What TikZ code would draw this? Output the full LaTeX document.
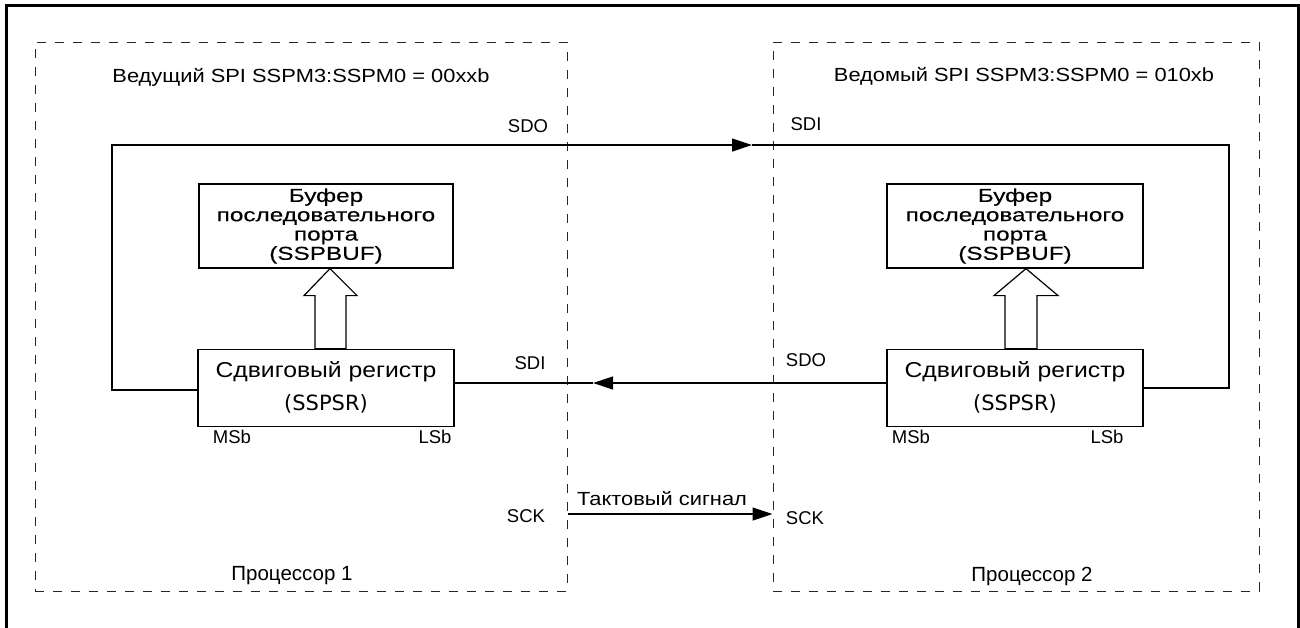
\documentclass[tikz,border=0pt]{standalone}
\usepackage{fontspec}
\setmainfont{Liberation Sans}
\newfontfamily\wide[FakeStretch=1.15]{Liberation Sans}
\newfontfamily\widebuf[FakeStretch=1.3,FakeBold=0.3]{Liberation Sans}
\newfontfamily\regfont{DejaVu Sans}
\usetikzlibrary{positioning,arrows.meta,calc}

\tikzset{
  cpu/.style={draw=black!85,dash pattern=on 9pt off 9pt,line width=1pt,inner sep=0pt},
  blk/.style={draw,line width=1.2pt,inner sep=0pt,align=center},
  lbl/.style={font=\fontsize{18.5}{20}\selectfont,inner sep=0pt},
  wlbl/.style={font=\wide\fontsize{19}{20}\selectfont,inner sep=0pt},
  buftxt/.style={font=\widebuf\fontsize{18.7}{19.3}\selectfont},
  regtxt/.style={font=\wide\fontsize{21.5}{22}\selectfont},
  wire/.style={line width=1.2pt},
  tip/.style={-{Triangle[length=20pt,width=13pt]}},
  hollow/.style={line width=1.2pt,fill=white},
}

\begin{document}
\begin{tikzpicture}[x=1pt,y=-1pt]
\useasboundingbox (0,0) rectangle (1300,627);
% outer frame
\draw[line width=3pt] (6,640) -- (6,5) -- (1298,5) -- (1298,640);

% two processors
\node[cpu,minimum width=532pt,minimum height=549pt] (cpu1) at (301,316.5) {};
\node[cpu,minimum width=486pt,minimum height=549pt] (cpu2) at (1016,316.5) {};

% buffers and shift registers
\node[blk,buftxt,minimum width=254pt,minimum height=84pt] (buf1) at (326,226) {Буфер\\последовательного\\порта\\(SSPBUF)};
\node[blk,regtxt,minimum width=256pt,minimum height=77pt,below=80pt of buf1] (reg1) {Сдвиговый регистр\\[11pt]{\regfont\fontsize{21}{21}\selectfont(SSPSR)}};
\node[blk,buftxt,minimum width=256pt,minimum height=84pt] (buf2) at (1015,226) {Буфер\\последовательного\\порта\\(SSPBUF)};
\node[blk,regtxt,minimum width=256pt,minimum height=77pt,below=80pt of buf2] (reg2) {Сдвиговый регистр\\[11pt]{\regfont\fontsize{21}{21}\selectfont(SSPSR)}};

% hollow arrows register -> buffer
\coordinate (t1) at ($(buf1.south)+(4,0)$);
\draw[hollow] (t1) -- ++(27,27) -- ++(-11,0) -- ++(0,53) -- ++(-31,0) -- ++(0,-53) -- ++(-11,0) -- cycle;
\coordinate (t2) at ($(buf2.south)+(11,0)$);
\draw[hollow] (t2) -- ++(32,27) -- ++(-21,0) -- ++(0,53) -- ++(-32,0) -- ++(0,-53) -- ++(-11,0) -- cycle;

% data lines
\coordinate (yl) at (0,390);
\coordinate (ymid) at (0,383);
\coordinate (yr) at (0,388);
\coordinate (ysck) at (0,514);
\draw[wire,tip] (reg1.west |- yl) -| (112,145) -- (752,145);
\draw[wire] (752,145) -| (1229,388) -- (reg2.east |- yr);
\draw[wire,tip] (reg2.west |- ymid) -- (593,383);
\draw[wire] (593,383) -- (reg1.east |- ymid);
\draw[wire,tip] (cpu1.east |- ysck) -- (cpu2.west |- ysck);

% labels
\node[wlbl] (t1ttl) at (301,77) {Ведущий SPI SSPM3:SSPM0 = 00xxb};
\node[wlbl] (t2ttl) at (1024,76) {Ведомый SPI SSPM3:SSPM0 = 010xb};
\node[lbl] (sdo1) at (528,126) {SDO};
\node[lbl] (sdi2) at (806,124) {SDI};
\node[lbl] (sdi1) at (530,363) {SDI};
\node[lbl] (sdo2) at (806,360) {SDO};
\node[lbl] (msb1) at (232,437) {MSb};
\node[lbl] (lsb1) at (435,437) {LSb};
\node[lbl] (msb2) at (911,437) {MSb};
\node[lbl] (lsb2) at (1107,437) {LSb};
\node[lbl] (sck1) at (526,516) {SCK};
\node[lbl] (sck2) at (805,518) {SCK};
\node[wlbl] (clk) at (662,499) {Тактовый сигнал};
\node[lbl,font=\fontsize{20.5}{21}\selectfont] (p1) at (292,576) {Процессор 1};
\node[lbl,font=\fontsize{20.5}{21}\selectfont] (p2) at (1032,576) {Процессор 2};
\end{tikzpicture}
\end{document}
